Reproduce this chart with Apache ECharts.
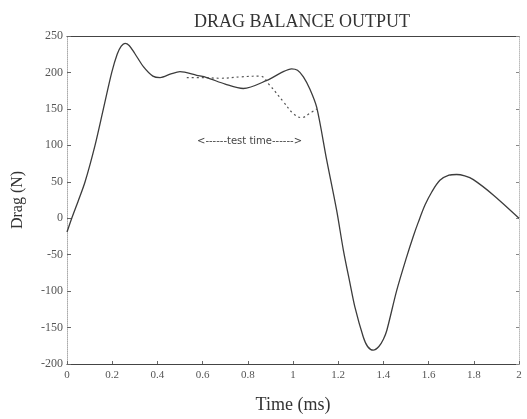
<!DOCTYPE html>
<html>
<head>
<meta charset="utf-8">
<script src="https://cdn.jsdelivr.net/npm/echarts@6/dist/echarts.min.js"></script>
<style>
  html, body { margin: 0; padding: 0; background: #fff; }
  #chart { width: 527px; height: 419px; }
</style>
</head>
<body>
<div id="chart"></div>
<script>
// time (ms), drag (N)
const dragOutput = [
  [0, -19], [0.021, 0], [0.05, 24], [0.08, 50], [0.124, 100], [0.161, 150],
  [0.198, 200], [0.222, 225], [0.24, 236], [0.257, 240], [0.275, 237], [0.3, 226],
  [0.338, 208], [0.38, 195], [0.412, 193], [0.46, 198], [0.5, 201], [0.574, 196],
  [0.618, 193], [0.7, 184], [0.78, 178], [0.884, 189], [0.95, 200], [0.994, 205],
  [1.02, 203], [1.046, 194], [1.075, 177], [1.105, 152], [1.149, 80], [1.193, 11],
  [1.223, -44], [1.252, -89], [1.274, -122], [1.311, -163], [1.33, -176],
  [1.355, -181], [1.38, -176], [1.4, -166], [1.415, -154], [1.459, -99],
  [1.503, -53], [1.532, -25], [1.555, -5], [1.584, 18], [1.614, 36], [1.65, 52],
  [1.69, 59], [1.724, 60], [1.76, 58], [1.798, 53], [1.886, 32], [2, 0]
];

const testTimeCurve = [
  [0.53, 193], [0.6, 193], [0.677, 192], [0.77, 194], [0.854, 195], [0.898, 182],
  [0.957, 160], [1.0, 144], [1.038, 138], [1.075, 144], [1.105, 150]
];

const yTicks = [-200, -150, -100, -50, 0, 50, 100, 150, 200, 250];

const serif = "'Liberation Serif', 'DejaVu Serif', serif";
const lineColor = "#3c3c3c";

const chart = echarts.init(document.querySelector("#chart"));

chart.setOption({
  animation: false,
  backgroundColor: "#fff",
  title: {
    text: "DRAG BALANCE OUTPUT",
    left: 297,
    top: 8,
    textAlign: "center",
    textStyle: { fontFamily: serif, fontSize: 18, fontWeight: "normal", color: "#333" },
  },
  grid: { left: 67, right: 8, top: 36, bottom: 55, outerBoundsMode: "none", containLabel: false },
  xAxis: [
    {
      type: "value",
      min: 0,
      max: 2,
      interval: 0.2,
      name: "Time (ms)",
      nameLocation: "middle",
      nameGap: 32,
      nameTextStyle: { fontFamily: serif, fontSize: 18, color: "#333" },
      axisLine: { show: true, onZero: false, lineStyle: { color: "#444", width: 1.2 } },
      axisTick: { show: true, inside: true, length: 3, lineStyle: { color: "#666" } },
      axisLabel: {
        fontFamily: serif,
        fontSize: 11,
        color: "#555",
        margin: 6,
        formatter: (v) => String(Math.round(v * 10) / 10),
      },
      splitLine: { show: false },
    },
    {
      type: "value",
      position: "top",
      min: 0,
      max: 2,
      interval: 0.2,
      axisLine: { show: true, onZero: false, lineStyle: { color: "#444", width: 1.2 } },
      axisTick: { show: false },
      axisLabel: { show: false },
      splitLine: { show: false },
    },
  ],
  yAxis: [
    {
      type: "value",
      min: -200,
      max: 250,
      interval: 50,
      name: "Drag (N)",
      nameLocation: "middle",
      nameGap: 41,
      nameTextStyle: { fontFamily: serif, fontSize: 16, color: "#333" },
      axisLine: { show: true, onZero: false, lineStyle: { color: "#aaa", type: "dotted" } },
      axisTick: { show: true, inside: true, length: 4, lineStyle: { color: "#666" } },
      axisLabel: {
        fontFamily: serif,
        fontSize: 12,
        color: "#555",
        margin: 4,
        formatter: (v) => (yTicks.includes(v) ? String(v) : ""),
      },
      splitLine: { show: false },
    },
    {
      type: "value",
      position: "right",
      min: -200,
      max: 250,
      interval: 50,
      axisLine: { show: true, onZero: false, lineStyle: { color: "#bbb", type: "dotted" } },
      axisTick: { show: true, inside: true, length: 3, lineStyle: { color: "#888" } },
      axisLabel: { show: false },
      splitLine: { show: false },
    },
  ],
  series: [
    {
      name: "Drag",
      type: "line",
      data: dragOutput,
      smooth: 0.3,
      showSymbol: false,
      lineStyle: { color: lineColor, width: 1.3 },
      z: 3,
    },
    {
      name: "Test",
      type: "line",
      data: testTimeCurve,
      smooth: 0.4,
      showSymbol: false,
      lineStyle: { color: "#555", width: 1.2, type: [2, 3] },
      z: 2,
    },
  ],
  graphic: [
    {
      type: "text",
      left: 197,
      top: 136,
      style: {
        text: "<------test time------>",
        font: "10px 'DejaVu Sans', sans-serif",
        fill: "#444",
      },
    },
  ],
});
</script>
</body>
</html>
